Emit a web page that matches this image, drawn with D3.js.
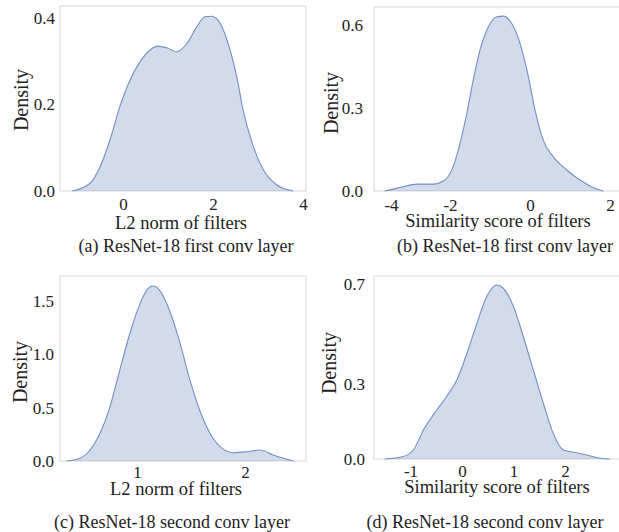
<!DOCTYPE html>
<html>
<head>
<meta charset="utf-8">
<script src="https://cdn.jsdelivr.net/npm/d3@7"></script>
<style>
  body { margin: 0; background: #fff; }
  text { font-family: "Liberation Serif", "Times New Roman", serif; fill: #222; }
</style>
</head>
<body>
<div id="chart"></div>
<script>
// density curves

// (a) first conv layer, L2 norm
var aX = [-1.13, -0.73, -0.51, -0.29, -0.07, 0.16, 0.38, 0.6, 0.78, 0.97, 1.19, 1.42, 1.64, 1.82, 1.97, 2.16, 2.38, 2.53, 2.67, 2.9, 3.12, 3.42, 3.78];
var aY = [0, 0.018, 0.056, 0.118, 0.195, 0.257, 0.299, 0.326, 0.335, 0.331, 0.322, 0.341, 0.38, 0.403, 0.404, 0.388, 0.326, 0.264, 0.187, 0.102, 0.049, 0.014, 0];

// (b) first conv layer, similarity score
var bX = [-3.63, -3.25, -2.83, -2.42, -2.13, -1.92, -1.75, -1.58, -1.42, -1.25, -1.04, -0.83, -0.67, -0.46, -0.25, -0.04, 0.125, 0.33, 0.58, 0.92, 1.25, 1.58, 1.83];
var bY = [0, 0.013, 0.025, 0.025, 0.04, 0.088, 0.172, 0.281, 0.401, 0.51, 0.594, 0.63, 0.632, 0.606, 0.534, 0.413, 0.293, 0.184, 0.124, 0.076, 0.04, 0.013, 0];

// (c) second conv layer, L2 norm
var cX = [0.35, 0.47, 0.565, 0.657, 0.75, 0.84, 0.935, 1.03, 1.105, 1.15, 1.21, 1.3, 1.4, 1.49, 1.58, 1.676, 1.77, 1.89, 2.016, 2.14, 2.26, 2.39, 2.45];
var cY = [0, 0.025, 0.103, 0.26, 0.51, 0.85, 1.2, 1.48, 1.62, 1.64, 1.6, 1.415, 1.1, 0.76, 0.478, 0.26, 0.134, 0.078, 0.087, 0.103, 0.056, 0.016, 0];

// (d) second conv layer, similarity score
var dX = [-1.5, -1.14, -0.945, -0.75, -0.49, -0.3, -0.1, 0.09, 0.285, 0.48, 0.67, 0.8, 1.0, 1.19, 1.385, 1.58, 1.77, 1.97, 2.23, 2.42, 2.68, 2.87];
var dY = [0, 0.01, 0.036, 0.116, 0.196, 0.25, 0.316, 0.42, 0.54, 0.65, 0.696, 0.683, 0.61, 0.49, 0.356, 0.223, 0.103, 0.036, 0.025, 0.016, 0.003, 0];

// tick values
var aXTicks = [0, 2, 4], aYTicks = [0, 0.2, 0.4];
var bXTicks = [-4, -2, 0, 2], bYTicks = [0, 0.3, 0.6];
var cXTicks = [1, 2], cYTicks = [0, 0.5, 1.0, 1.5];
var dXTicks = [-1, 0, 1, 2], dYTicks = [0, 0.3, 0.7];

// texts
var xTitles = ["L2 norm of filters", "Similarity score of filters", "L2 norm of filters", "Similarity score of filters"];
var captions = ["(a) ResNet-18 first conv layer", "(b) ResNet-18 first conv layer",
                "(c) ResNet-18 second conv layer", "(d) ResNet-18 second conv layer"];

var width = 619, height = 532;

var svg = d3.select("#chart").append("svg")
    .attr("width", width)
    .attr("height", height);

// layout of each panel (pixel boxes and domains)
var panels = [
    { xs: aX, ys: aY, xt: aXTicks, yt: aYTicks, l: 60, r: 306, t: 6, b: 191, xd: [-1.4, 4.067], yd: [0, 0.4277],
      pad: 5, xpad: 7, titleX: 181, titleY: 229, capX: 186, capY: 252, denX: 28, denY: 100 },
    { xs: bX, ys: bY, xt: bXTicks, yt: bYTicks, l: 374, r: 620, t: 7, b: 191, xd: [-3.9, 2.25], yd: [0, 0.665],
      pad: 11, xpad: 8, titleX: 498, titleY: 227, capX: 505, capY: 252, denX: 338, denY: 103 },
    { xs: cX, ys: cY, xt: cXTicks, yt: cYTicks, l: 60, r: 306, t: 276, b: 461, xd: [0.287, 2.565], yd: [0, 1.734],
      pad: 6, xpad: 5, titleX: 176, titleY: 495, capX: 172, capY: 528, denX: 27, denY: 372 },
    { xs: dX, ys: dY, xt: dXTicks, yt: dYTicks, l: 374, r: 620, t: 276, b: 459, xd: [-1.709, 3.068], yd: [0, 0.732],
      pad: 9, xpad: 6, titleX: 497, titleY: 493, capX: 485, capY: 528, denX: 336, denY: 363 }
];

panels.forEach(function (p, i) {

    var x = d3.scaleLinear().domain(p.xd).range([p.l, p.r]);
    var y = d3.scaleLinear().domain(p.yd).range([p.b, p.t]);

    var g = svg.append("g");

    // frame
    g.append("rect")
        .attr("x", p.l)
        .attr("y", p.t)
        .attr("width", p.r - p.l)
        .attr("height", p.b - p.t)
        .style("fill", "none")
        .style("stroke", "#dedede")
        .style("stroke-width", 1.2);

    var pts = p.xs.map(function (v, k) { return [v, p.ys[k]]; });

    var area = d3.area()
        .x(function (d) { return x(d[0]); })
        .y0(y(0))
        .y1(function (d) { return y(d[1]); })
        .curve(d3.curveMonotoneX);

    var line = d3.line()
        .x(function (d) { return x(d[0]); })
        .y(function (d) { return y(d[1]); })
        .curve(d3.curveMonotoneX);

    g.append("path")
        .datum(pts)
        .attr("d", area)
        .style("fill", "#4c72b0")
        .style("fill-opacity", 0.26);

    g.append("path")
        .datum(pts)
        .attr("d", line)
        .style("fill", "none")
        .style("stroke", "#4c72b0")
        .style("stroke-opacity", 0.75)
        .style("stroke-width", 1.1);

    // axes
    var xAxis = d3.axisBottom(x).tickValues(p.xt).tickSize(0).tickPadding(p.xpad)
        .tickFormat(function (d) { return String(d); });
    var yAxis = d3.axisLeft(y).tickValues(p.yt).tickSize(0).tickPadding(p.pad)
        .tickFormat(d3.format(".1f"));

    var gx = g.append("g")
        .attr("transform", "translate(0," + p.b + ")")
        .call(xAxis);
    var gy = g.append("g")
        .attr("transform", "translate(" + p.l + ",0)")
        .call(yAxis);

    [gx, gy].forEach(function (ax) {
        ax.select(".domain").remove();
        ax.selectAll("text")
            .style("font-size", "17px")
            .style("font-family", "'Liberation Serif', serif")
            .style("fill", "#222");
    });

    // the "-4" label in (b) sits inside the frame in the original
    if (i === 1) {
        gx.selectAll(".tick").filter(function (d) { return d === -4; })
            .select("text").attr("dx", 21);
    }

    g.append("text")
        .attr("x", p.titleX)
        .attr("y", p.titleY)
        .attr("text-anchor", "middle")
        .style("font-size", "18.5px")
        .text(xTitles[i]);

    g.append("text")
        .attr("transform", "translate(" + p.denX + "," + p.denY + ") rotate(-90)")
        .attr("text-anchor", "middle")
        .style("font-size", "20px")
        .text("Density");

    g.append("text")
        .attr("x", p.capX)
        .attr("y", p.capY)
        .attr("text-anchor", "middle")
        .style("font-size", "18px")
        .text(captions[i]);
});
</script>
</body>
</html>
